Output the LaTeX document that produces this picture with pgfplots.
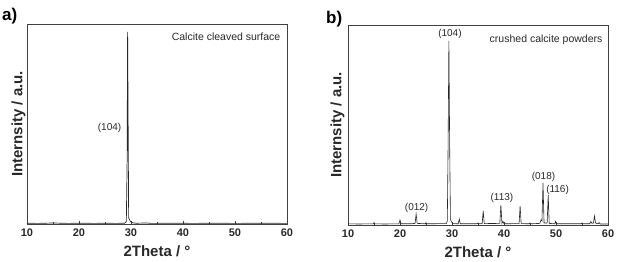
\documentclass[border=0pt]{standalone}
\usepackage{pgfplots}
\pgfplotsset{compat=1.18}
\usepackage{fontspec}
\setmainfont{Liberation Sans}
\definecolor{txt}{RGB}{40,40,40}
\pgfplotsset{
  xrdaxis/.style={
    scale only axis, width=260pt, height=200pt,
    xmin=10, xmax=60, ymin=0, ymax=1,
    xtick={10,20,...,60}, minor xtick={15,25,...,55},
    ytick=\empty, tick align=inside, xtick pos=bottom,
    major tick length=3pt, minor tick length=2pt,
    axis line style={black!75, line width=0.6pt},
    every tick/.style={black!75, line width=0.5pt},
    /pgf/number format/assume math mode=true,
    ticklabel style={font=\fontsize{11}{12}\selectfont\bfseries, text=txt},
    xticklabel style={yshift=-1pt},
    xlabel={2Theta / °}, ylabel={Internsity / a.u.},
    label style={font=\fontsize{15}{17}\selectfont\bfseries, text=txt},
    xlabel style={yshift=-2pt},
    ylabel style={yshift=-2pt},
    clip=true,
  }
}
\begin{document}
\begin{tikzpicture}[x=1pt,y=1pt]
\path[use as bounding box] (0,0) rectangle (618,262);
\node[anchor=west, font=\fontsize{17}{19}\selectfont\bfseries, inner sep=0pt] at (2,246) {a)};
\node[anchor=west, font=\fontsize{17}{19}\selectfont\bfseries, inner sep=0pt] at (326,243) {b)};
\begin{axis}[xrdaxis, at={(27pt,38pt)}, anchor=south west]
\addplot[black!85, line width=0.7pt] coordinates {
(10,0.004)(12,0.003)(15,0.005)(18,0.003)(20,0.004)(23,0.003)(25,0.004)(27,0.003)
(28.8,0.004)(29.1,0.012)(29.25,0.3)(29.35,0.96)(29.45,0.5)(29.55,0.03)(29.75,0.02)(29.9,0.012)
(30.3,0.006)(31,0.004)(33,0.005)(34,0.003)(38,0.004)(42,0.003)(46,0.004)(50,0.003)(55,0.004)(60,0.003)};
\node[anchor=east, font=\fontsize{10}{11}\selectfont, text=txt] at (axis cs:28.8,0.48) {(104)};
\node[anchor=east, font=\fontsize{10.5}{12}\selectfont, text=txt] at (axis cs:59.4,0.935) {Calcite cleaved surface};
\end{axis}
\begin{axis}[xrdaxis, at={(348pt,37pt)}, anchor=south west, ylabel style={yshift=2pt}]
\addplot[black!85, line width=0.6pt] coordinates {
(10,0.006)(12,0.005)(14.9,0.006)(15,0.012)(15.1,0.006)(17,0.005)
(19.8,0.006)(20.0,0.025)(20.2,0.006)(22,0.006)
(22.9,0.008)(23.1,0.055)(23.3,0.008)(24.9,0.006)(25.0,0.012)(25.1,0.006)
(28.9,0.007)(29.1,0.02)(29.25,0.4)(29.4,0.92)(29.55,0.4)(29.7,0.03)(29.9,0.015)(30.2,0.007)
(31.2,0.006)(31.4,0.03)(31.6,0.006)(34.8,0.006)(35,0.01)(35.2,0.006)
(35.8,0.007)(36.0,0.07)(36.2,0.007)(39.2,0.008)(39.4,0.1)(39.6,0.008)(39.8,0.018)(40,0.006)
(42.9,0.007)(43.1,0.095)(43.3,0.007)(44.9,0.006)(45,0.01)(45.1,0.006)
(46.9,0.008)(47.1,0.025)(47.3,0.02)(47.5,0.21)(47.7,0.01)(48.3,0.01)(48.5,0.15)(48.7,0.008)
(49.8,0.006)(49.9,0.018)(50.1,0.006)(54.9,0.006)(55,0.01)(55.1,0.006)
(56.5,0.006)(56.7,0.018)(56.9,0.008)(57.2,0.01)(57.4,0.045)(57.6,0.01)(58.1,0.006)(58.3,0.012)(58.5,0.005)(60,0.005)};
\node[font=\fontsize{10}{11}\selectfont, text=txt] at (axis cs:29.6,0.955) {(104)};
\node[font=\fontsize{10}{11}\selectfont, text=txt] at (axis cs:23.2,0.085) {(012)};
\node[font=\fontsize{10}{11}\selectfont, text=txt] at (axis cs:39.6,0.136) {(113)};
\node[font=\fontsize{10}{11}\selectfont, text=txt] at (axis cs:47.6,0.24) {(018)};
\node[font=\fontsize{10}{11}\selectfont, text=txt] at (axis cs:50.3,0.174) {(116)};
\node[anchor=east, font=\fontsize{10.5}{12}\selectfont, text=txt] at (axis cs:59.6,0.925) {crushed calcite powders};
\end{axis}
\end{tikzpicture}
\end{document}
